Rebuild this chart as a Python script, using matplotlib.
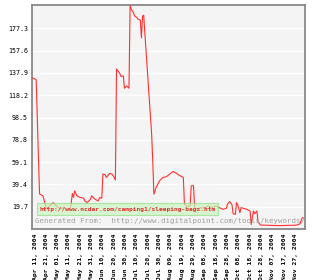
import pandas as pd
import matplotlib
matplotlib.use("Agg")
import matplotlib.pyplot as plt
import matplotlib.dates as mdates
from matplotlib.patches import Rectangle

# keyword rank history
dates = ["2004-04-09", "2004-04-12", "2004-04-15", "2004-04-18", "2004-04-20", "2004-04-21",
         "2004-04-24", "2004-04-27", "2004-04-30", "2004-05-03", "2004-05-06", "2004-05-09",
         "2004-05-12", "2004-05-13", "2004-05-14", "2004-05-15", "2004-05-16", "2004-05-18",
         "2004-05-21", "2004-05-24", "2004-05-25", "2004-05-27", "2004-05-30", "2004-05-31",
         "2004-06-03", "2004-06-06", "2004-06-07", "2004-06-09", "2004-06-10", "2004-06-12",
         "2004-06-13", "2004-06-16", "2004-06-18", "2004-06-20", "2004-06-21", "2004-06-22",
         "2004-06-25", "2004-06-26", "2004-06-28", "2004-06-29", "2004-07-01", "2004-07-03",
         "2004-07-04", "2004-07-05", "2004-07-07", "2004-07-08", "2004-07-10", "2004-07-11",
         "2004-07-13", "2004-07-14", "2004-07-15", "2004-07-16", "2004-07-17", "2004-07-20",
         "2004-07-23", "2004-07-24", "2004-07-25", "2004-07-27", "2004-07-30", "2004-08-02",
         "2004-08-05", "2004-08-08", "2004-08-11", "2004-08-14", "2004-08-17", "2004-08-20",
         "2004-08-21", "2004-08-23", "2004-08-26", "2004-08-27", "2004-08-29", "2004-08-30",
         "2004-09-01", "2004-09-04", "2004-09-07", "2004-09-11", "2004-09-14", "2004-09-18",
         "2004-09-21", "2004-09-24", "2004-09-27", "2004-09-28", "2004-09-30", "2004-10-02",
         "2004-10-03", "2004-10-05", "2004-10-06", "2004-10-07", "2004-10-09", "2004-10-10",
         "2004-10-12", "2004-10-15", "2004-10-18", "2004-10-19", "2004-10-21", "2004-10-22",
         "2004-10-24", "2004-10-25", "2004-10-27", "2004-11-13", "2004-11-28", "2004-12-01",
         "2004-12-03", "2004-12-04"]
values = [133.5, 132, 31, 29.3, 22, 17.7,
          20.3, 23.3, 20.3, 17.7, 18.9, 17.7,
          17.7, 23.3, 31.3, 28, 33.7, 29.3,
          27.8, 27.2, 24.8, 23.3, 26.3, 29.3,
          26.3, 24.8, 27.8, 27.2, 48.6, 48,
          45.6, 49.2, 48.5, 45.6, 43.3, 141.4,
          137.2, 134.8, 135.4, 124.4, 126.5, 124.4,
          197.5, 194.3, 191.3, 188.3, 186.9, 185.4,
          184.8, 169, 188.3, 189, 173.5, 128.9,
          84.3, 60, 30.8, 36.7, 42.6, 45.6,
          46.2, 48.6, 50.9, 49.2, 47.1, 45.6,
          21.9, 20.3, 20.3, 38.2, 38.2, 18.8,
          17.4, 18.8, 18.5, 20.3, 18.8, 20.3,
          18.8, 17.4, 18.3, 21.9, 24.2, 21.5,
          13.5, 12.9, 23.3, 21.5, 14.4, 18.9,
          18.3, 17.4, 15.9, 4, 15.9, 13.5,
          15.9, 6.3, 3.5, 3, 3.4, 4.5,
          9.9, 9.9]
yticks = [19.7, 39.4, 59.1, 78.8, 98.5, 118.2, 137.9, 157.6, 177.3]
url_label = "http://www.ncdar.com/camping1/sleeping-bags.htm"
source_label = "Generated From:  http://www.digitalpoint.com/tools/keywords/"

x = pd.to_datetime(dates)

fig = plt.figure(figsize=(3.13, 2.8), dpi=100)
ax = fig.add_axes([32/313, 1 - 229/280, 273/313, 224/280])
ax.set_facecolor("#f4f4f4")

ax.plot(x, values, color="#ff3030", lw=0.8, zorder=3)

ax.set_ylim(0, 198)
ax.set_xlim(pd.Timestamp("2004-04-08 08:00"), pd.Timestamp("2004-12-05 12:00"))
ax.set_yticks(yticks)
ax.set_yticklabels([f"{v:.1f}" for v in yticks], family="DejaVu Sans Mono", fontsize=4.8)
ax.yaxis.grid(True, color="white", lw=1)
ax.set_axisbelow(True)

ticks = pd.date_range("2004-04-11", "2004-11-27", freq="10D")
ax.set_xticks(ticks)
ax.xaxis.set_major_formatter(mdates.DateFormatter("%b %d, %Y"))
for lab in ax.get_xticklabels():
    lab.set_rotation(90)
    lab.set_fontsize(4.6)
    lab.set_family("DejaVu Sans Mono")
    lab.set_fontweight("bold")
ax.tick_params(length=0, pad=3)

for s in ax.spines.values():
    s.set_color("#888888")
    s.set_linewidth(1.3)

# legend box and source note
fig.patches.append(Rectangle((37/313, 1 - 215/280), 181/313, 12/280,
                             transform=fig.transFigure, facecolor="#c8f5c0", alpha=0.7,
                             edgecolor="#90e080", lw=0.8, zorder=5))
fig.text(40/313, 1 - 209.5/280, url_label, color="#e03030", fontsize=4.5,
         family="DejaVu Sans Mono", fontweight="bold", va="center", zorder=6)
fig.text(35/313, 1 - 221/280, source_label, color="#a0a0a0", fontsize=5.3,
         family="DejaVu Sans Mono", va="center", zorder=6)

fig.savefig("out.png", dpi=100)
